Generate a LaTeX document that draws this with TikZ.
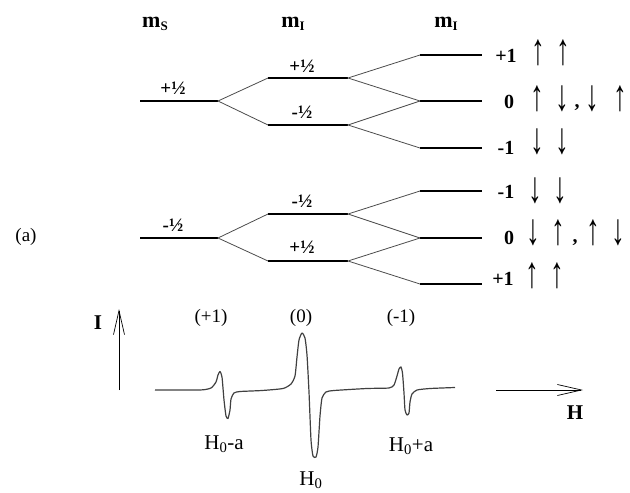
\documentclass[tikz,border=0pt]{standalone}
\usepackage{fontspec}
\setmainfont{Liberation Serif}
\usetikzlibrary{arrows.meta}
\newcommand{\spinup}{\scalebox{1.25}[2.0]{↑}}
\newcommand{\spindn}{\scalebox{1.25}[2.0]{↓}}
\begin{document}
\begin{tikzpicture}[x=1pt,y=-1pt,
  level/.style={line width=1.8pt},
  link/.style={line width=0.8pt, draw=black!70},
  half/.style={inner sep=0pt, font=\fontsize{19}{19}\bfseries\selectfont},
  head/.style={inner sep=0pt, font=\fontsize{22}{22}\bfseries\selectfont},
  mlab/.style={inner sep=0pt, font=\fontsize{20}{20}\bfseries\selectfont},
  spin/.style={inner sep=0pt, font=\fontsize{22}{22}\selectfont},
  txt/.style={inner sep=0pt, font=\fontsize{19}{19}\selectfont},
  hlab/.style={inner sep=0pt, font=\fontsize{21}{21}\selectfont},
  axis/.style={line width=0.7pt, -{Straight Barb[length=24pt,width=11pt,line width=0.7pt]}},
  spec/.style={line width=1.2pt, draw=black!75, line join=round}
]
\useasboundingbox (0,0) rectangle (630,493);

% headers
\node[head] (hs) at (155,24) {m\raisebox{-3pt}{\fontsize{13}{13}\selectfont S}};
\node[head] (hi1) at (293,24) {m\raisebox{-3pt}{\fontsize{13}{13}\selectfont I}};
\node[head] (hi2) at (446,24) {m\raisebox{-3pt}{\fontsize{13}{13}\selectfont I}};

% ---------- top group (mS = +1/2) ----------
\coordinate (sAl) at (140,101); \coordinate (sAr) at (218,101);
\coordinate (iAul) at (268,78);  \coordinate (iAur) at (348,78);
\coordinate (iAll) at (268,125); \coordinate (iAlr) at (348,125);
\coordinate (rA1l) at (420,55);  \coordinate (rA1r) at (482,55);
\coordinate (rA2l) at (420,101); \coordinate (rA2r) at (482,101);
\coordinate (rA3l) at (420,148); \coordinate (rA3r) at (482,148);
\draw[level] (sAl) -- (sAr);
\draw[level] (iAul) -- (iAur);
\draw[level] (iAll) -- (iAlr);
\draw[level] (rA1l) -- (rA1r);
\draw[level] (rA2l) -- (rA2r);
\draw[level] (rA3l) -- (rA3r);
\draw[link] (iAul) -- (sAr) -- (iAll);
\draw[link] (rA1l) -- (iAur) -- (rA2l);
\draw[link] (rA2l) -- (iAlr) -- (rA3l);
\node[half] (hA0) at (173,88) {+½};
\node[half] (hA1) at (302,66) {+½};
\node[half] (hA2) at (302,112) {-½};

\node[mlab] (mA1) at (506,56) {+1};
\node[mlab] (mA2) at (509,102) {0};
\node[mlab] (mA3) at (506,148) {-1};
\node[spin] (a1) at (538,53) {\spinup};
\node[spin] (a2) at (563,53) {\spinup};
\node[spin] (a3) at (537,99) {\spinup};
\node[spin] (a4) at (562,99) {\spindn};
\node[mlab] (c1) at (577,108) {,};
\node[spin] (a5) at (592,99) {\spindn};
\node[spin] (a6) at (620,99) {\spinup};
\node[spin] (a7) at (537,142) {\spindn};
\node[spin] (a8) at (562,142) {\spindn};

% ---------- bottom group (mS = -1/2) ----------
\coordinate (sBl) at (140,238); \coordinate (sBr) at (218,238);
\coordinate (iBul) at (268,214);  \coordinate (iBur) at (348,214);
\coordinate (iBll) at (268,261); \coordinate (iBlr) at (348,261);
\coordinate (rB1l) at (420,191);  \coordinate (rB1r) at (482,191);
\coordinate (rB2l) at (420,238); \coordinate (rB2r) at (482,238);
\coordinate (rB3l) at (420,284); \coordinate (rB3r) at (482,284);
\draw[level] (sBl) -- (sBr);
\draw[level] (iBul) -- (iBur);
\draw[level] (iBll) -- (iBlr);
\draw[level] (rB1l) -- (rB1r);
\draw[level] (rB2l) -- (rB2r);
\draw[level] (rB3l) -- (rB3r);
\draw[link] (iBul) -- (sBr) -- (iBll);
\draw[link] (rB1l) -- (iBur) -- (rB2l);
\draw[link] (rB2l) -- (iBlr) -- (rB3l);
\node[half] (hB0) at (173,225) {-½};
\node[half] (hB1) at (302,201) {-½};
\node[half] (hB2) at (302,247) {+½};

\node[mlab] (mB1) at (506,192) {-1};
\node[mlab] (mB2) at (509,238) {0};
\node[mlab] (mB3) at (503,279) {+1};
\node[spin] (b1) at (535,191) {\spindn};
\node[spin] (b2) at (560,191) {\spindn};
\node[spin] (b3) at (533,233) {\spindn};
\node[spin] (b4) at (558,233) {\spinup};
\node[mlab] (c2) at (575,243) {,};
\node[spin] (b5) at (593,233) {\spinup};
\node[spin] (b6) at (618,233) {\spindn};
\node[spin] (b7) at (532,276) {\spinup};
\node[spin] (b8) at (557,276) {\spinup};

\node[txt] (lbla) at (26,237) {(a)};

% ---------- spectrum ----------
\coordinate (Ibot) at (119,390); \coordinate (Itop) at (119,309);
\draw[axis] (Ibot) -- (Itop);
\node[inner sep=0pt, font=\fontsize{21}{21}\bfseries\selectfont] (Ilab) at (98,323) {I};
\coordinate (Hl) at (496,390); \coordinate (Hr) at (583,390);
\draw[axis] (Hl) -- (Hr);
\node[inner sep=0pt, font=\fontsize{21}{21}\bfseries\selectfont] (Hlab) at (575,413) {H};

\draw[spec] plot[smooth, tension=0.35] coordinates {
 (155,390) (200,390) (211,388) (216,382) (218,375) (220,371.5) (222,377)
 (224,400) (226,416) (228,418.5) (230,410) (231,399) (234,393) (240,391.5)
 (262,390.5) (283,388.5) (291,384) (295,376) (297,357) (299,340) (302,333)
 (305,338) (307,355) (309,392) (311,440) (313,456) (316,457) (318,447)
 (320,416) (322,398) (326,392) (334,390.5)
 (367,388.5) (389,388) (394,385) (397,376) (399,369) (401,367) (402.5,373)
 (404,393) (405,410) (407,415) (409,413) (410,402) (412,394) (417,390)
 (430,388.5) (455,387.5)};

\node[txt] (p1) at (211,318) {(+1)};
\node[txt] (p0) at (301,318) {(0)};
\node[txt] (pm) at (401,318) {(-1)};
\node[hlab] (H1) at (224,444) {H\textsubscript{0}-a};
\node[hlab] (H0) at (311,480) {H\textsubscript{0}};
\node[hlab] (H2) at (411,446) {H\textsubscript{0}+a};
\end{tikzpicture}
\end{document}
